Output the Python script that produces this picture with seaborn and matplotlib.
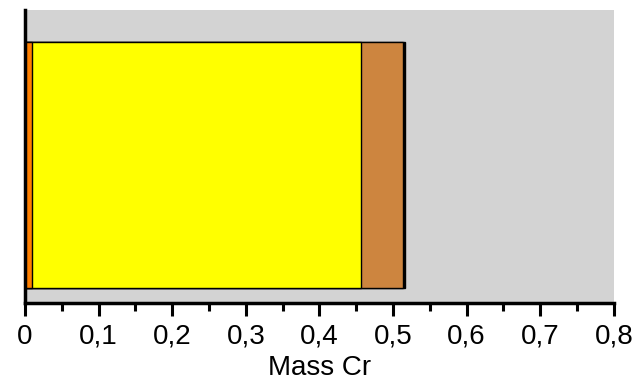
import matplotlib
matplotlib.use("Agg")
import matplotlib.pyplot as plt
import seaborn as sns
import pandas as pd
from matplotlib.ticker import MultipleLocator, FuncFormatter

# Datos: segmentos apilados de masa de Cr
segmentos = ["a", "b", "c", "d"]
valores = [0.009, 0.447, 0.057, 0.004]
colores = ["#FF8000", "#FFFF00", "#CD853F", "#000000"]

sns.set_style("white")
plt.rcParams['font.family'] = ['Liberation Sans', 'DejaVu Sans']
plt.rcParams['text.color'] = 'black'
plt.rcParams['axes.labelcolor'] = 'black'
plt.rcParams['xtick.color'] = 'black'

fig = plt.figure(figsize=(6.4, 3.87), dpi=100)
ax = fig.add_axes([0.039, 0.217, 0.92, 0.757])
ax.set_facecolor("#D3D3D3")

# Acumulados, dibujados del mayor al menor para apilar
acum = pd.Series(valores).cumsum().tolist()
for i in reversed(range(len(segmentos))):
    df = pd.DataFrame({"cat": ["Cr"], "masa": [acum[i]]})
    sns.barplot(data=df, x="masa", y="cat", orient="h", color=colores[i],
                saturation=1, width=0.84, edgecolor="black", linewidth=1, ax=ax)

ax.set_xlim(0, 0.8)
ax.set_ylim(0.471, -0.529)
ax.set_yticks([])
ax.set_ylabel("")
ax.set_xlabel("Mass Cr", fontsize=20, labelpad=4, color="black")

ax.xaxis.set_major_locator(MultipleLocator(0.1))
ax.xaxis.set_minor_locator(MultipleLocator(0.05))
ax.xaxis.set_major_formatter(FuncFormatter(lambda v, p: "0" if abs(v) < 1e-9 else f"{v:.1f}".replace(".", ",")))
ax.tick_params(axis="x", which="major", length=9, width=2.2, labelsize=20, bottom=True, pad=6,
               colors="black", labelcolor="black")
ax.tick_params(axis="x", which="minor", length=6, width=2.2, bottom=True, colors="black")

for lado in ["top", "right"]:
    ax.spines[lado].set_visible(False)
for lado in ["left", "bottom"]:
    ax.spines[lado].set_linewidth(2.5)
    ax.spines[lado].set_color("black")

fig.savefig("out.png", dpi=100)
